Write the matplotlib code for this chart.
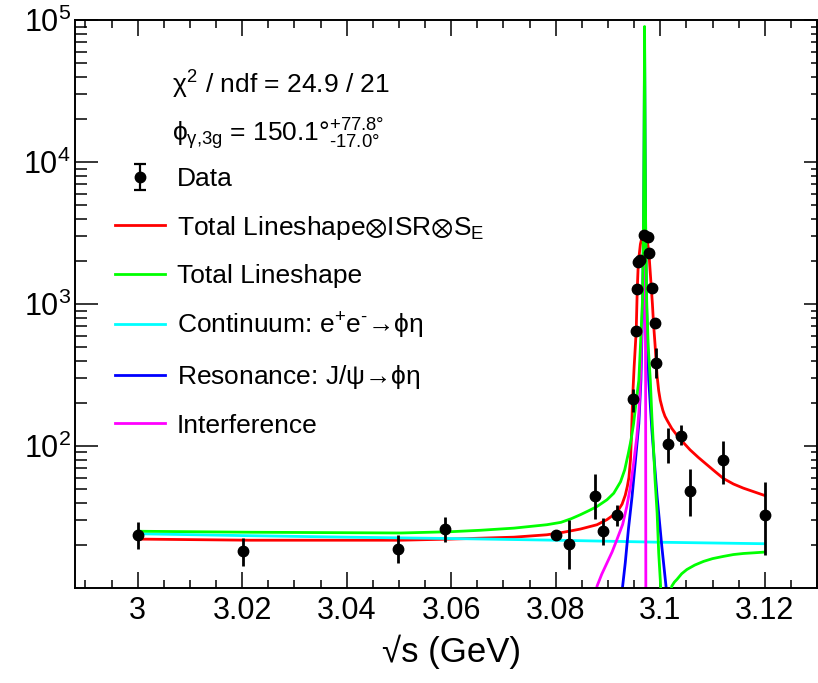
import numpy as np
import matplotlib
matplotlib.use("Agg")
import matplotlib.pyplot as plt
from matplotlib.ticker import FixedLocator, LogLocator, MultipleLocator, FuncFormatter, LogFormatterSciNotation, NullFormatter

plt.rcParams['font.family'] = ['Liberation Sans', 'DejaVu Sans']
plt.rcParams['mathtext.fontset'] = 'custom'
plt.rcParams['mathtext.rm'] = 'Liberation Sans'
plt.rcParams['mathtext.it'] = 'Liberation Sans'
plt.rcParams['mathtext.bf'] = 'Liberation Sans:bold'
plt.rcParams['mathtext.fallback'] = 'stixsans'

# measured cross section points (sqrt(s) in GeV)
data_x = [3.0000, 3.0201, 3.0498, 3.0588, 3.0801, 3.0825, 3.0876, 3.0890, 3.0917,
          3.0947, 3.0954, 3.0956, 3.0957, 3.0962, 3.0968, 3.0976, 3.0978, 3.0985,
          3.0989, 3.0992, 3.1015, 3.1040, 3.1056, 3.1121, 3.1200]
data_y = [23.7, 18.1, 18.9, 26.0, 23.7, 20.5, 44.6, 25.3, 32.8,
          214, 644, 1280, 1963, 2050, 3060, 2980, 2285, 1300,
          738, 385, 103, 118, 48.3, 79.8, 32.8]
err_lo = [4.9, 3.7, 4.0, 4.9, 1.5, 7.0, 14.0, 5.1, 5.6,
          40, 45, 70, 90, 90, 110, 110, 95, 70,
          50, 85, 26.6, 16, 16.4, 25.7, 15.6]
err_hi = [5.3, 4.4, 4.8, 5.6, 1.5, 9.8, 19.1, 5.8, 5.7,
          40, 45, 70, 90, 90, 110, 110, 95, 70,
          50, 103, 31, 22, 20.3, 29.2, 23.4]

# fit curves
red_x = [3.0000, 3.0216, 3.0503, 3.0598, 3.0720, 3.0783, 3.0815, 3.0847, 3.0879, 3.0898,
         3.0911, 3.0920, 3.0927, 3.0933, 3.0937, 3.0940, 3.0943, 3.0945, 3.0947, 3.0950,
         3.0954, 3.0956, 3.0958, 3.0962, 3.0966, 3.0970, 3.0974, 3.0978, 3.0982, 3.0985,
         3.0987, 3.0990, 3.0992, 3.0994, 3.0997, 3.1000, 3.1005, 3.1009, 3.1013, 3.1022,
         3.1032, 3.1045, 3.1057, 3.1073, 3.1089, 3.1105, 3.1121, 3.1140, 3.1159, 3.1180,
         3.1200]
red_y = [22.1, 21.7, 21.7, 22.1, 22.8, 23.7, 24.7, 26.0, 27.9, 30.3,
         32.8, 35.5, 39, 45, 52, 60, 80, 120, 214, 360,
         650, 1280, 1950, 2640, 3050, 3190, 2950, 2370, 1450, 1000,
         740, 520, 400, 310, 245, 210, 178, 162, 152, 133,
         119, 105, 94, 83, 74, 66, 59, 54, 50.5, 47.5,
         44.8]

green_x = [3.0000, 3.0216, 3.0503, 3.0598, 3.0656, 3.0720, 3.0783, 3.0810, 3.0830, 3.0847,
           3.0863, 3.0879, 3.0898, 3.0911, 3.0924, 3.0932, 3.0939, 3.0944, 3.0949, 3.0955,
           3.0959, 3.0963, 3.0966, 3.0968, 3.0969, 3.0970, 3.0971, 3.0972, 3.0974, 3.0977,
           3.0981, 3.0984, 3.0987, 3.0990, 3.0994, 3.0997, 3.1000, 3.1002, 3.1011, 3.1020,
           3.1022, 3.1027, 3.1032, 3.1041, 3.1051, 3.1066, 3.1083, 3.1100, 3.1121, 3.1140,
           3.1159, 3.1180, 3.1200]
green_y = [25.1, 24.7, 24.4, 24.9, 25.5, 26.4, 27.9, 29.0, 30.8, 32.8,
           35.0, 37.5, 41.8, 46.5, 56, 68, 89, 110, 144, 222,
           290, 600, 1060, 3900, 15000, 90000, 15000, 3900, 1060, 500,
           290, 160, 99, 58, 33.7, 17.7, 11.5, 8, np.nan, 9,
           10.3, 11.0, 11.5, 12.6, 13.5, 14.5, 15.4, 16.1, 16.7, 17.2,
           17.5, 17.7, 17.9]

cyan_x = [3.000, 3.020, 3.040, 3.060, 3.080, 3.100, 3.120]
cyan_y = [24.1, 23.4, 22.8, 22.3, 21.7, 21.0, 20.5]

blue_x = [3.0926, 3.0928, 3.0933, 3.0939, 3.0946, 3.0952, 3.0959, 3.0963, 3.0966, 3.0968,
          3.0969, 3.0970, 3.0971, 3.0972, 3.0974, 3.0978, 3.0984, 3.0989, 3.0994, 3.1003,
          3.1011, 3.1013]
blue_y = [9, 10.3, 15, 25.8, 44, 75.5, 144, 290, 900, 3000,
          12000, 70000, 12000, 3000, 900, 290, 129, 75, 44, 19.6,
          10.3, 9]

mag_x = [3.0877, 3.0879, 3.0888, 3.0898, 3.0908, 3.0917, 3.0928, 3.0936, 3.0943, 3.0949,
         3.0955, 3.0959, 3.0962, 3.0966, 3.0969, 3.0971, 3.09720, 3.09723, 3.09725]
mag_y = [9, 10.3, 12.5, 15, 18, 21.9, 28, 37.5, 52, 75.5,
         115, 169, 290, 1000, 2500, 2000, 290, 20, 5]

labels = ["Data",
          r"Total Lineshape$\otimes$ISR$\otimes$S$_{\mathrm{E}}$",
          "Total Lineshape",
          "Continuum: e$^{+}$e$^{\\text{-}}$\u2192$\\phi\\eta$",
          "Resonance: J/$\\psi$\u2192$\\phi\\eta$",
          "Interference"]

fig = plt.figure(figsize=(8.18, 6.83), dpi=100)
ax = fig.add_axes([0.0917, 0.1391, 0.9071, 0.8316])

lw = 2.0
l_red, = ax.plot(red_x, red_y, color='#ff0000', lw=lw, zorder=2)
l_cyan, = ax.plot(cyan_x, cyan_y, color='#00ffff', lw=lw, zorder=2)
l_blue, = ax.plot(blue_x, blue_y, color='#0000ff', lw=lw, zorder=2)
l_mag, = ax.plot(mag_x, mag_y, color='#ff00ff', lw=lw, zorder=2)
l_green, = ax.plot(green_x, green_y, color='#00ff00', lw=lw, zorder=3)

ax.errorbar(data_x, data_y, yerr=[err_lo, err_hi], fmt='o', color='black',
            ms=7.5, elinewidth=2, capsize=0, zorder=5)
h_data = ax.errorbar([np.nan], [np.nan], yerr=[[1], [1]], fmt='o', color='black',
                     ms=7.5, elinewidth=1.6, capsize=4, capthick=1.6)

ax.set_yscale('log')
ax.set_xlim(2.988, 3.130)
ax.set_ylim(10, 1e5)

ax.xaxis.set_major_locator(MultipleLocator(0.02))
ax.xaxis.set_minor_locator(MultipleLocator(0.005))
ax.xaxis.set_major_formatter(FuncFormatter(lambda v, p: f"{v:g}"))
ax.yaxis.set_major_locator(FixedLocator([1e2, 1e3, 1e4, 1e5]))
ax.yaxis.set_major_formatter(LogFormatterSciNotation())
ax.yaxis.set_minor_locator(LogLocator(base=10, subs=np.arange(2, 10)))
ax.yaxis.set_minor_formatter(NullFormatter())

ax.tick_params(axis='x', which='both', direction='in', top=True, bottom=True,
               labelsize=22, pad=6, width=1.1)
ax.tick_params(axis='x', which='major', length=11.5)
ax.tick_params(axis='x', which='minor', length=5.8)
ax.tick_params(axis='y', which='both', direction='in', left=True, right=False,
               labelsize=22, pad=3, width=1.1)
ax.tick_params(axis='y', which='major', length=16.5)
ax.tick_params(axis='y', which='minor', length=8.5)
for s in ax.spines.values():
    s.set_linewidth(1.4)

# right-hand axis carries shorter ticks
ax2 = ax.twinx()
ax2.set_yscale('log')
ax2.set_ylim(ax.get_ylim())
ax2.yaxis.set_major_locator(FixedLocator([1e2, 1e3, 1e4, 1e5]))
ax2.yaxis.set_minor_locator(LogLocator(base=10, subs=np.arange(2, 10)))
ax2.tick_params(axis='y', which='both', direction='in', labelright=False, width=1.1)
ax2.tick_params(axis='y', which='major', length=9.4)
ax2.tick_params(axis='y', which='minor', length=4)
for s in ax2.spines.values():
    s.set_visible(False)

ax.set_xlabel("\u221as (GeV)", fontsize=25)
ax.xaxis.set_label_coords(0.508, -0.082)

ax.text(0.1307, 0.871, r"$\chi^{2}$ / ndf = 24.9 / 21", transform=ax.transAxes,
        fontsize=19, va='baseline', ha='left')
ax.text(0.1307, 0.787, r"$\phi_{\gamma{,}3g}$ = 150.1$\degree^{+77.8\degree}_{\text{-}17.0\degree}$",
        transform=ax.transAxes, fontsize=19, va='baseline', ha='left')

ax.legend([h_data, l_red, l_green, l_cyan, l_blue, l_mag], labels,
          loc='upper left', bbox_to_anchor=(0.054, 0.741), frameon=False,
          fontsize=19, handlelength=1.9, handletextpad=0.45, labelspacing=0.85,
          borderpad=0, borderaxespad=0)

fig.savefig("out.png", dpi=100)
